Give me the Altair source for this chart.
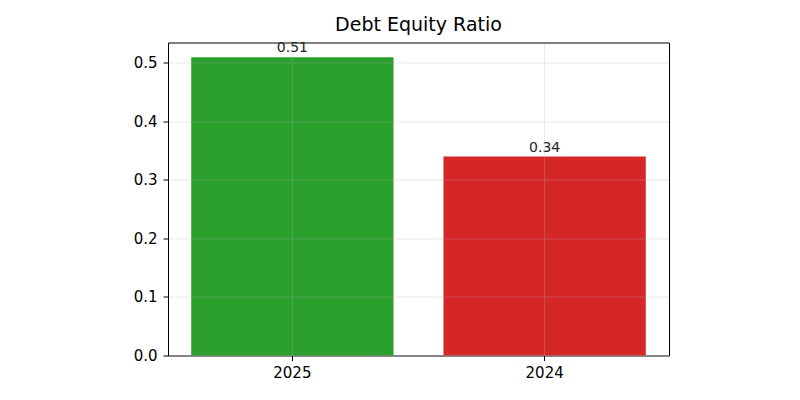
import altair as alt
import pandas as pd

years = ["2025", "2024"]
ratios = [0.51, 0.34]
colors = ["#2ca02c", "#d62728"]
labels = ["0.51", "0.34"]

df = pd.DataFrame({"year": years, "ratio": ratios, "color": colors, "label": labels})

x = alt.X("year:N", sort=years, title=None,
          scale=alt.Scale(paddingInner=0.198, paddingOuter=0.092),
          axis=alt.Axis(labelAngle=0, grid=True, bandPosition=0.5, zindex=1,
                        gridColor="#b0b0b0", gridOpacity=0.35, gridWidth=0.8,
                        domain=False, tickColor="black", tickSize=5,
                        labelFont="DejaVu Sans", labelFontSize=15, labelColor="black",
                        labelPadding=5))
y = alt.Y("ratio:Q", title=None,
          scale=alt.Scale(domain=[0, 0.535], nice=False, zero=True),
          axis=alt.Axis(values=[0, 0.1, 0.2, 0.3, 0.4, 0.5], format=".1f", grid=True, zindex=1,
                        gridColor="#b0b0b0", gridOpacity=0.35, gridWidth=0.8,
                        domain=False, tickColor="black", tickSize=5,
                        labelFont="DejaVu Sans", labelFontSize=15, labelColor="black",
                        labelPadding=6))

bars = alt.Chart(df).mark_bar().encode(
    x=x, y=y, color=alt.Color("color:N", scale=None)
)
text = alt.Chart(df).mark_text(baseline="alphabetic", dy=-5, font="DejaVu Sans",
                               fontSize=14, color="#222222").encode(
    x=alt.X("year:N", sort=years), y="ratio:Q", text="label:N"
)

chart = (bars + text).properties(
    width=501, height=313,
    title=alt.Title("Debt Equity Ratio", font="DejaVu Sans", fontSize=19,
                    fontWeight="normal", color="black", offset=6),
    autosize=alt.AutoSizeParams(type="none"),
    padding={"left": 160, "top": 34.5, "right": 100, "bottom": 37},
).configure_view(stroke="black", strokeWidth=1)

chart.save("out.html", embed_options={"renderer": "svg", "actions": False})
